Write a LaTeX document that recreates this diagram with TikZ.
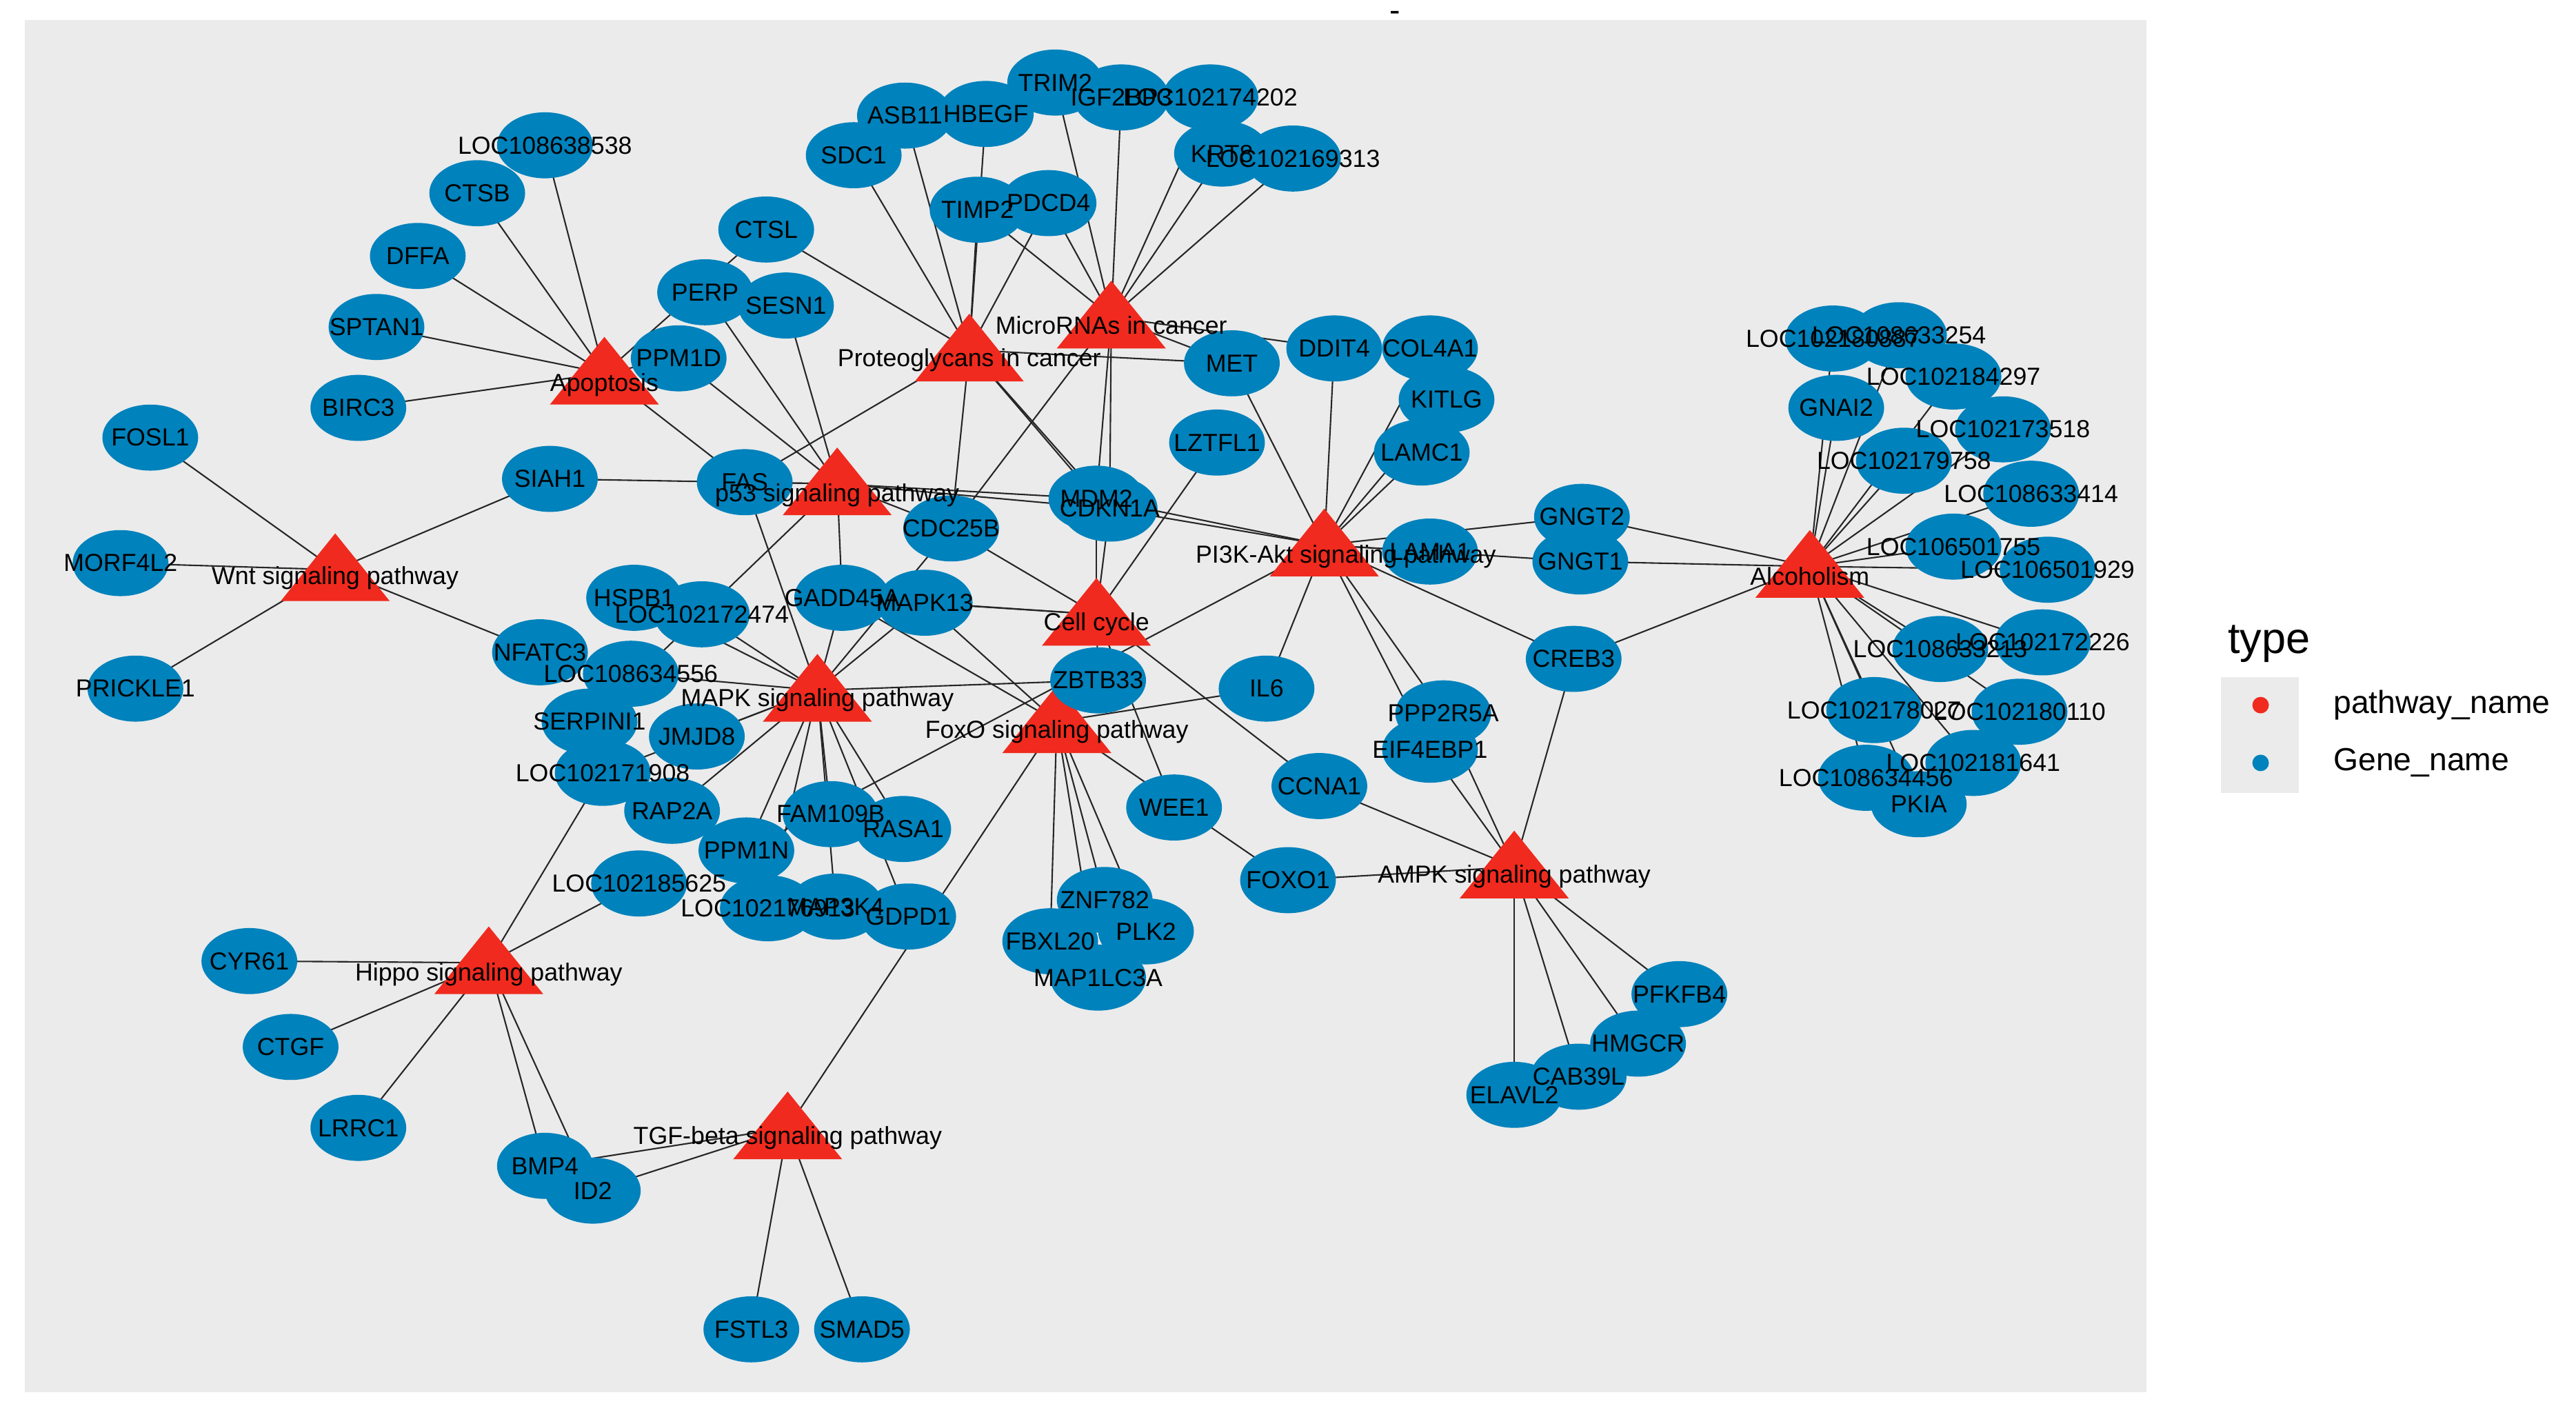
\documentclass[tikz,border=0pt]{standalone}
\usepackage{fontspec}
\setmainfont{Liberation Sans}
\usetikzlibrary{shapes.geometric}
\pgfdeclarelayer{bg}
\pgfdeclarelayer{back}
\pgfsetlayers{back,bg,main}
\definecolor{gblue}{RGB}{0,130,188}
\definecolor{pred}{RGB}{240,42,30}
\definecolor{panel}{RGB}{235,235,235}
\tikzset{
  gene/.style={ellipse, fill=gblue, minimum width=1.16cm, minimum height=0.8cm, inner sep=0pt},
  pw/.style={coordinate},
  tri/.style={fill=pred},
  lbl/.style={inner sep=0pt, font=\fontsize{8.5}{9}\selectfont, text=black},
  edge/.style={draw=black!85, line width=0.5pt}
}
\begin{document}
\begin{tikzpicture}[x=0.02cm,y=-0.02cm]
\useasboundingbox (0,0) rectangle (1560,858);
\begin{pgfonlayer}{back}
\fill[white] (0,0) rectangle (1560,858);
\fill[panel] (15,12) rectangle (1300,843);
\end{pgfonlayer}
\node[font=\fontsize{11}{11}\selectfont] (title) at (845,10) {-};
\def\genes{lca/330/88/LOC108638538, ctsb/289/117/CTSB, dffa/253/155/DFFA, sptan/228/198/SPTAN1, birc/217/247/BIRC3,
fosl/91/265/FOSL1, morf/73/341/MORF4L2, prick/82/417/PRICKLE1, siah/333/290/SIAH1, ctsl/464/139/CTSL, perp/427/177/PERP,
sesn/476/185/SESN1, ppm1d/411/217/PPM1D, fas/451/292/FAS, sdc/517/94/SDC1, asb/548/70/ASB11, hbegf/597/69/HBEGF,
trim/639/50/TRIM2, igf/679/59/IGF2BP3, l174/733/59/LOC102174202, krt/740/93/KRT8, l169/783/96/LOC102169313,
timp/592/127/TIMP2, pdcd/635/123/PDCD4, met/746/220/MET, ddit/808/211/DDIT4, col/866/211/COL4A1, kitlg/876/242/KITLG,
lamc/861/274/LAMC1, lztfl/737/268/LZTFL1, mdm/664/302/MDM2, cdkn/672/308/CDKN1A, cdc/576/320/CDC25B, gadd/510/362/GADD45A,
mapkt/560/365/MAPK13, hspb/384/362/HSPB1, l474/425/372/LOC102172474, nfat/327/395/NFATC3, l556/382/408/LOC108634556,
serp/357/437/SERPINI1, jmjd/422/446/JMJD8, l908/365/468/LOC102171908, rap/407/491/RAP2A, fam/503/493/FAM109B,
rasa/547/502/RASA1, ppmn/452/515/PPM1N, l625/387/535/LOC102185625, l913/465/550/LOC102176913, mapk4/506/549/MAP3K4,
gdpd/550/555/GDPD1, zbtb/665/412/ZBTB33, il6/767/417/IL6, wee/711/489/WEE1, znf/669/545/ZNF782, fbxl/636/570/FBXL20,
plk/694/564/PLK2, mapl/665/592/MAP1LC3A, ccna/799/476/CCNA1, foxoa/780/533/FOXO1, lama/866/334/LAMA1, gngtb/958/313/GNGT2,
gngta/957/340/GNGT1, creb/953/399/CREB3, ppp/874/432/PPP2R5A, eif/866/454/EIF4EBP1, pfk/1017/602/PFKFB4, hmg/992/632/HMGCR,
cab/956/652/CAB39L, elav/917/663/ELAVL2, cyr/151/582/CYR61, ctgf/176/634/CTGF, lrrc/217/683/LRRC1, bmp/330/706/BMP4,
idt/359/721/ID2, fstl/455/805/FSTL3, smad/522/805/SMAD5, l887/1110/205/LOC102180887, l254/1150/203/LOC108633254,
l297/1183/228/LOC102184297, gnai/1112/247/GNAI2, l518/1213/260/LOC102173518, l758/1153/279/LOC102179758,
l414/1230/299/LOC108633414, l755/1183/331/LOC106501755, l929/1240/345/LOC106501929, l226/1237/389/LOC102172226,
l213/1175/393/LOC108633213, l027/1135/430/LOC102178027, l110/1223/431/LOC102180110, l641/1195/462/LOC102181641,
l456/1130/471/LOC108634456, pkia/1162/487/PKIA}
\def\paths{apo/366/226/366/233/Apoptosis, wnt/203/345/203/350/Wnt signaling pathway, pft/507/293/507/300/p53 signaling pathway,
prot/587/212/587/218/Proteoglycans in cancer, mir/673/192/673/197/MicroRNAs in cancer, cell/664/372/664/378/Cell cycle,
pik/802/330/815/337/PI3K-Akt signaling pathway, alc/1096/343/1096/349/Alcoholism, mapk/495/418/495/424/MAPK signaling pathway,
foxo/640/437/640/443/FoxO signaling pathway, ampk/917/525/917/531/AMPK signaling pathway,
hippo/296/583/296/590/Hippo signaling pathway, tgf/477/683/477/689/TGF-beta signaling pathway}
\foreach \n/\x/\y/\lx/\ly/\t in \paths {
  \node[pw] (\n) at (\x,\y) {};
  \fill[tri] (\x,\y) ++(-33,19) -- ++(66,0) -- ++(-33,-41) -- cycle;
}
\foreach \n/\x/\y/\t in \genes { \node[gene] (\n) at (\x,\y) {}; }
\begin{pgfonlayer}{bg}
\foreach \a/\b in {apo/lca,apo/ctsb,apo/dffa,apo/sptan,apo/birc,apo/ctsl,apo/fas,apo/ppm1d,
 wnt/fosl,wnt/morf,wnt/prick,wnt/siah,wnt/nfat,
 pft/ppm1d,pft/perp,pft/sesn,pft/fas,pft/siah,pft/gadd,pft/cdkn,pft/mdm,pft/serp,pft/cdc,
 prot/sdc,prot/asb,prot/hbegf,prot/timp,prot/pdcd,prot/ctsl,prot/met,prot/fas,prot/mdm,prot/cdkn,prot/cdc,
 mir/trim,mir/igf,mir/l174,mir/krt,mir/l169,mir/pdcd,mir/timp,mir/met,mir/ddit,mir/mdm,mir/cdkn,mir/cdc,
 cell/cdkn,cell/mdm,cell/cdc,cell/mapkt,cell/zbtb,cell/wee,cell/lztfl,cell/ccna,cell/gadd,
 pik/met,pik/ddit,pik/col,pik/kitlg,pik/lamc,pik/lama,pik/gngtb,pik/gngta,pik/creb,pik/ppp,pik/eif,pik/il6,pik/cdkn,pik/mdm,pik/ppmn,
 mapk/hspb,mapk/l474,mapk/l556,mapk/jmjd,mapk/rap,mapk/l908,mapk/ppmn,mapk/fam,mapk/rasa,mapk/mapk4,mapk/l913,mapk/gdpd,
 mapk/gadd,mapk/mapkt,mapk/cdc,mapk/zbtb,mapk/fas,
 foxo/zbtb,foxo/il6,foxo/foxoa,foxo/znf,foxo/fbxl,foxo/plk,foxo/mapl,foxo/mapkt,foxo/gadd,
 ampk/foxoa,ampk/ccna,ampk/creb,ampk/eif,ampk/ppp,ampk/elav,ampk/cab,ampk/hmg,ampk/pfk,
 alc/gngtb,alc/gngta,alc/creb,alc/l887,alc/l254,alc/l297,alc/gnai,alc/l518,alc/l758,alc/l414,alc/l755,alc/l929,
 alc/l226,alc/l213,alc/l027,alc/l110,alc/l641,alc/l456,alc/pkia,
 hippo/l908,hippo/cyr,hippo/ctgf,hippo/lrrc,hippo/bmp,hippo/idt,hippo/l625,
 tgf/bmp,tgf/idt,tgf/fstl,tgf/smad,tgf/foxo}
 { \draw[edge] (\a.center) -- (\b.center); }
\end{pgfonlayer}
\foreach \n/\x/\y/\t in \genes { \node[lbl] at (\n) {\t}; }
\foreach \n/\x/\y/\lx/\ly/\t in \paths { \node[lbl] at (\lx,\ly) {\t}; }
\node[anchor=west, font=\fontsize{15}{15}\selectfont] (lt) at (1343,390) {type};
\fill[panel] (1345,410) rectangle (1392,480);
\node[circle, fill=pred, minimum size=0.2cm, inner sep=0] (k1) at (1369,427) {};
\node[circle, fill=gblue, minimum size=0.2cm, inner sep=0] (k2) at (1369,462) {};
\node[anchor=west, font=\fontsize{11}{12}\selectfont] (t1) at (1407,427) {pathway\_name};
\node[anchor=west, font=\fontsize{11}{12}\selectfont] (t2) at (1407,462) {Gene\_name};
\end{tikzpicture}
\end{document}
